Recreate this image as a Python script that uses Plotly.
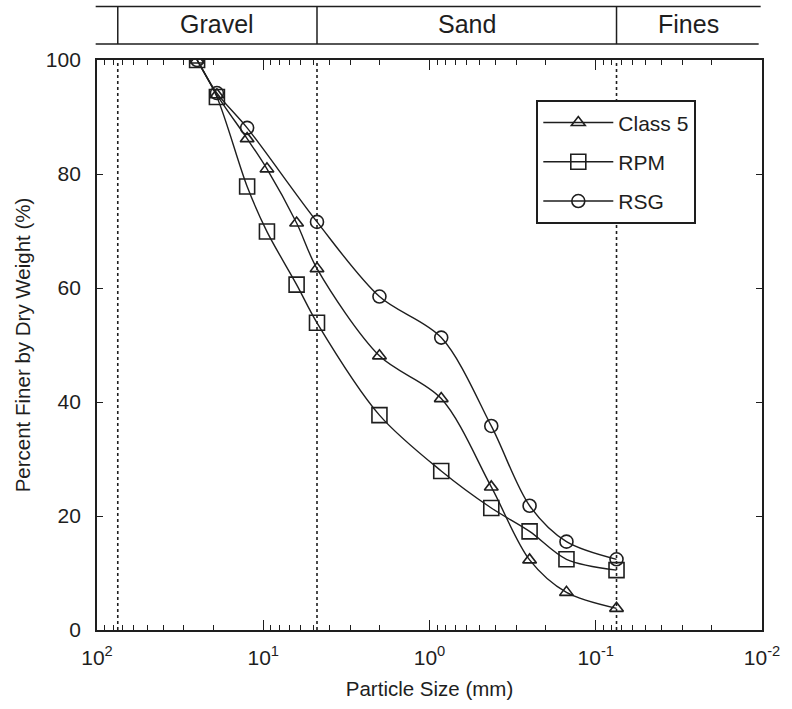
import plotly.graph_objects as go
import numpy as np

# Sieve sizes (mm)
sizes_class5 = [25, 19, 12.5, 9.5, 6.3, 4.75, 2.0, 0.85, 0.425, 0.25, 0.15, 0.075]
class5 = [100, 93.9, 86.2, 80.9, 71.4, 63.4, 48.1, 40.6, 25.1, 12.3, 6.6, 3.8]

sizes_rpm = [25, 19, 12.5, 9.5, 6.3, 4.75, 2.0, 0.85, 0.425, 0.25, 0.15, 0.075]
rpm = [100, 93.5, 77.8, 69.9, 60.6, 53.9, 37.7, 27.9, 21.4, 17.3, 12.4, 10.5]

sizes_rsg = [25, 19, 12.5, 4.75, 2.0, 0.85, 0.425, 0.25, 0.15, 0.075]
rsg = [100, 94.2, 88.1, 71.6, 58.5, 51.3, 35.8, 21.8, 15.5, 12.4]

# Soil class boundaries (mm) and header labels
boundaries = [75, 4.75, 0.075]
classes = ["Gravel", "Sand", "Fines"]

FONT = "Liberation Sans, Arial, Helvetica, sans-serif"
INK = "#1e1e1e"

fig = go.Figure()

# dotted boundary lines
for b in boundaries:
    fig.add_trace(go.Scatter(x=[b, b], y=[0, 100], mode="lines",
                             line=dict(color=INK, width=1.6, dash="dot"),
                             showlegend=False, hoverinfo="skip"))

series = [
    ("Class 5", sizes_class5, class5, "triangle-up-open", 12),
    ("RPM", sizes_rpm, rpm, "square-open", 15),
    ("RSG", sizes_rsg, rsg, "circle-open", 13),
]
for i, (name, xs, ys, sym, sz) in enumerate(series):
    fig.add_trace(go.Scatter(
        x=xs, y=ys, name=name, mode="lines+markers",
        line=dict(color=INK, width=1.4, shape="spline", smoothing=0.9),
        marker=dict(symbol=sym, size=sz, color=INK, line=dict(color=INK, width=1.6)),
        legendgroup=name,
    ))

# header band (paper coords computed from log positions)
def px(d):
    return (2 - np.log10(d)) / 4.0

y_top, y_bot = 1.094, 1.028
shapes = [
    dict(type="line", xref="paper", yref="paper", x0=-0.002, x1=0.998, y0=y_top, y1=y_top,
         line=dict(color=INK, width=1.5)),
    dict(type="line", xref="paper", yref="paper", x0=-0.002, x1=0.995, y0=y_bot, y1=y_bot,
         line=dict(color=INK, width=1.5)),
]
for b in boundaries:
    shapes.append(dict(type="line", xref="paper", yref="paper", x0=px(b), x1=px(b),
                       y0=y_bot, y1=y_top, line=dict(color=INK, width=1.5)))
edges = [px(boundaries[0]), px(boundaries[1]), px(boundaries[2]), 0.998]
annotations = []
for i, c in enumerate(classes):
    annotations.append(dict(xref="paper", yref="paper", x=(edges[i] + edges[i + 1]) / 2,
                            y=(y_top + y_bot) / 2 + 0.002, text=c, showarrow=False,
                            font=dict(size=25, color=INK, family=FONT),
                            xanchor="center", yanchor="middle"))

fig.update_layout(
    width=792, height=709,
    margin=dict(l=97, r=20, t=60, b=76),
    paper_bgcolor="white", plot_bgcolor="white",
    font=dict(family=FONT, size=20, color=INK),
    shapes=shapes, annotations=annotations,
    showlegend=True,
    legend=dict(x=0.66, y=0.93, xanchor="left", yanchor="top",
                bordercolor=INK, borderwidth=2.4, bgcolor="white",
                font=dict(size=21, family=FONT, color=INK),
                tracegroupgap=9, traceorder="grouped", itemwidth=70),
)
fig.update_xaxes(
    type="log", range=[2, -2], autorange=False,
    tickvals=[100, 10, 1, 0.1, 0.01],
    ticktext=["10<sup>2</sup>", "10<sup>1</sup>", "10<sup>0</sup>", "10<sup>-1</sup>", "10<sup>-2</sup>"],
    ticks="inside", ticklen=10, tickwidth=1.2, tickcolor=INK,
    minor=dict(ticks="inside", ticklen=5, tickwidth=1, tickcolor=INK,
               tickvals=[m * 10.0 ** e for e in range(-2, 2) for m in range(2, 10)]),
    showline=True, linecolor=INK, linewidth=1.8, mirror="ticks",
    showgrid=False, zeroline=False, ticklabelstandoff=8,
    title=dict(text="Particle Size (mm)", font=dict(size=20.5, family=FONT, color=INK), standoff=14),
    tickfont=dict(size=21, family=FONT, color=INK),
)
fig.update_yaxes(
    range=[0, 100], autorange=False, tickvals=[0, 20, 40, 60, 80, 100],
    ticks="inside", ticklen=6, tickwidth=1.2, tickcolor=INK,
    showline=True, linecolor=INK, linewidth=1.8, mirror="ticks",
    showgrid=False, zeroline=False, ticklabelstandoff=10,
    title=dict(text="Percent Finer by Dry Weight (%)", font=dict(size=20.5, family=FONT, color=INK), standoff=10),
    tickfont=dict(size=21, family=FONT, color=INK),
)

fig.write_html("out.html")
